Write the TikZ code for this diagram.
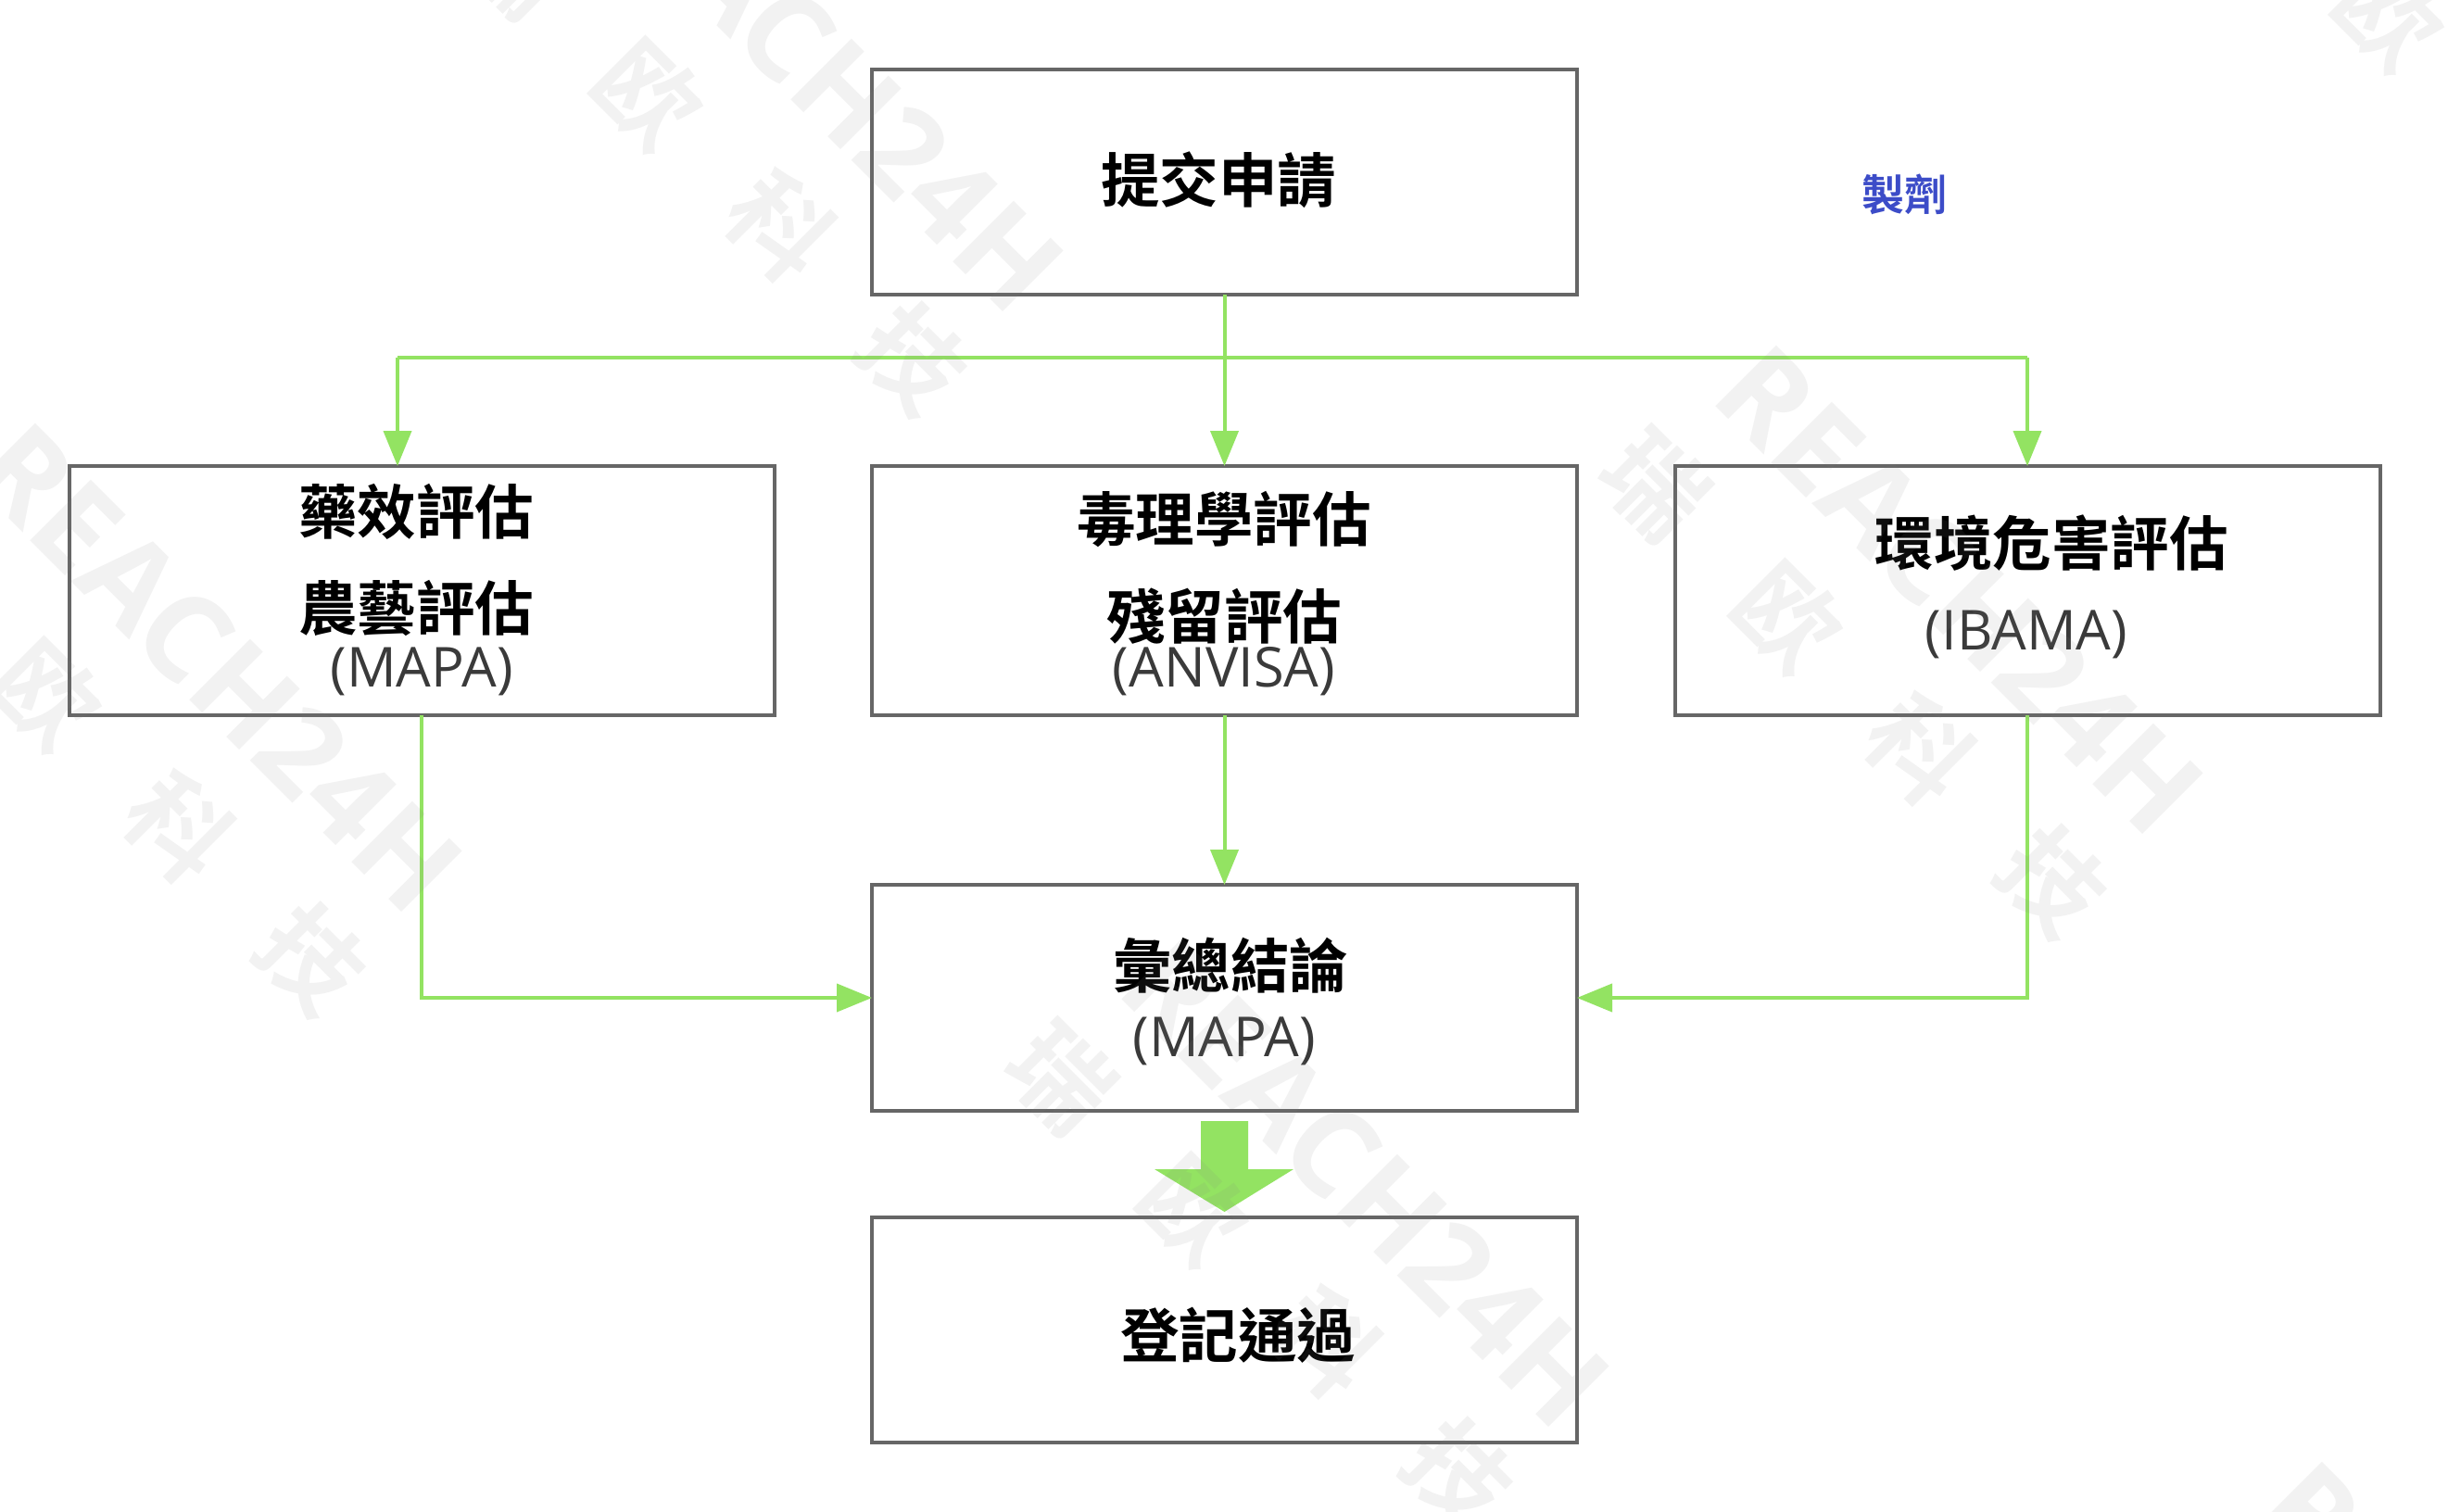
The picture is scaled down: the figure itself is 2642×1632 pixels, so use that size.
\documentclass[tikz,border=0pt]{standalone}
\usepackage{fontspec}
\usetikzlibrary{arrows.meta,calc}
\setmainfont{Open Sans}
\newfontfamily\cjk{Noto Sans CJK TC}[BoldFont={Noto Sans CJK TC Bold}]
\definecolor{lnk}{HTML}{93E362}
\definecolor{edge}{HTML}{666666}
\definecolor{subt}{HTML}{3A3A3A}
\definecolor{blu}{HTML}{3C4CC8}
\tikzset{
  x=1pt,y=-1pt,
  box/.style={draw=edge,line width=4pt,minimum width=761pt,minimum height=#1,inner sep=0pt,outer sep=0pt},
  head/.style={inner sep=0pt,text=black,font=\cjk\bfseries\fontsize{63.5}{70}\selectfont},
  sub/.style={inner sep=0pt,text=subt,font=\fontsize{59.5}{66}\selectfont},
  link/.style={draw=lnk,line width=4pt,-{Triangle[length=38pt,width=30pt]}},
  plain/.style={draw=lnk,line width=4pt},
  wm/.style={inner sep=0pt,rotate=-45,text=gray,opacity=.1,text opacity=.1},
}
\begin{document}
\begin{tikzpicture}
\clip (0,0) rectangle (2642,1632);
\useasboundingbox (0,0) rectangle (2642,1632);
\fill[white] (0,0) rectangle (2642,1632);
% boxes
\node[box=243pt] (submit) at (1321.5,196.5) {};
\node[box=269pt] (eff) at (455,637.5) {};
\node[box=269pt] (tox) at (1321.5,637.5) {};
\node[box=269pt] (env) at (2188,637.5) {};
\node[box=244pt] (sum) at (1321.5,1077) {};
\node[box=243pt] (reg) at (1321.5,1435.5) {};
% junctions
\coordinate (jc) at (1321.5,386);
\coordinate (jl) at (429,386);
\coordinate (jr) at (2188,386);
\coordinate (bl) at (455,1077);
\coordinate (br) at (2188,1077);
% connectors
\draw[plain] (jl) -- (jr);
\draw[link] (submit.south) -- (tox.north);
\draw[link] (jl) -- (jl |- eff.north);
\draw[link] (jr) -- (jr |- env.north);
\draw[link] (eff.south) -- (bl) -- (sum.west);
\draw[link] (tox.south) -- (sum.north);
\draw[link] (env.south) -- (br) -- (sum.east);
% block arrow
\fill[lnk] (1296,1210) -- (1347,1210) -- (1347,1262) -- (1396,1262) -- (1321.5,1308) -- (1246,1262) -- (1296,1262) -- cycle;
% texts
\node[head] (t1) at (1315,194) {提交申請};
\node[inner sep=0pt,text=blu,font=\cjk\bfseries\fontsize{46}{52}\selectfont] (t2) at (2055,210) {製劑};
\node[head] (t3) at (449,552) {藥效評估};
\node[head] (t4) at (449,656) {農藝評估};
\node[sub] (t5) at (455,725) {(MAPA)};
\node[head] (t6) at (1321,561) {毒理學評估};
\node[head] (t7) at (1321,665) {殘留評估};
\node[sub] (t8) at (1321,725) {(ANVISA)};
\node[head] (t9) at (2214,586) {環境危害評估};
\node[sub] (t10) at (2187,685) {(IBAMA)};
\node[head] (t11) at (1328,1042) {彙總結論};
\node[sub] (t12) at (1321,1124) {(MAPA)};
\node[head] (t13) at (1336,1441) {登記通過};
% watermarks
\foreach \i/\wx/\wy in {1/986/388,2/337/1036,3/2216/952,4/1575/1592,5/2865/303,6/2805/2157}{
  \node[wm,font=\bfseries\fontsize{130}{140}\selectfont] (wa\i) at (\wx-101,\wy-315) {REACH24H};
  \node[wm,font=\cjk\bfseries\fontsize{108}{115}\selectfont] (wb\i) at (\wx-215,\wy-215) {瑞\hspace{94pt}欧\hspace{94pt}科\hspace{94pt}技};
}
\end{tikzpicture}
\end{document}
